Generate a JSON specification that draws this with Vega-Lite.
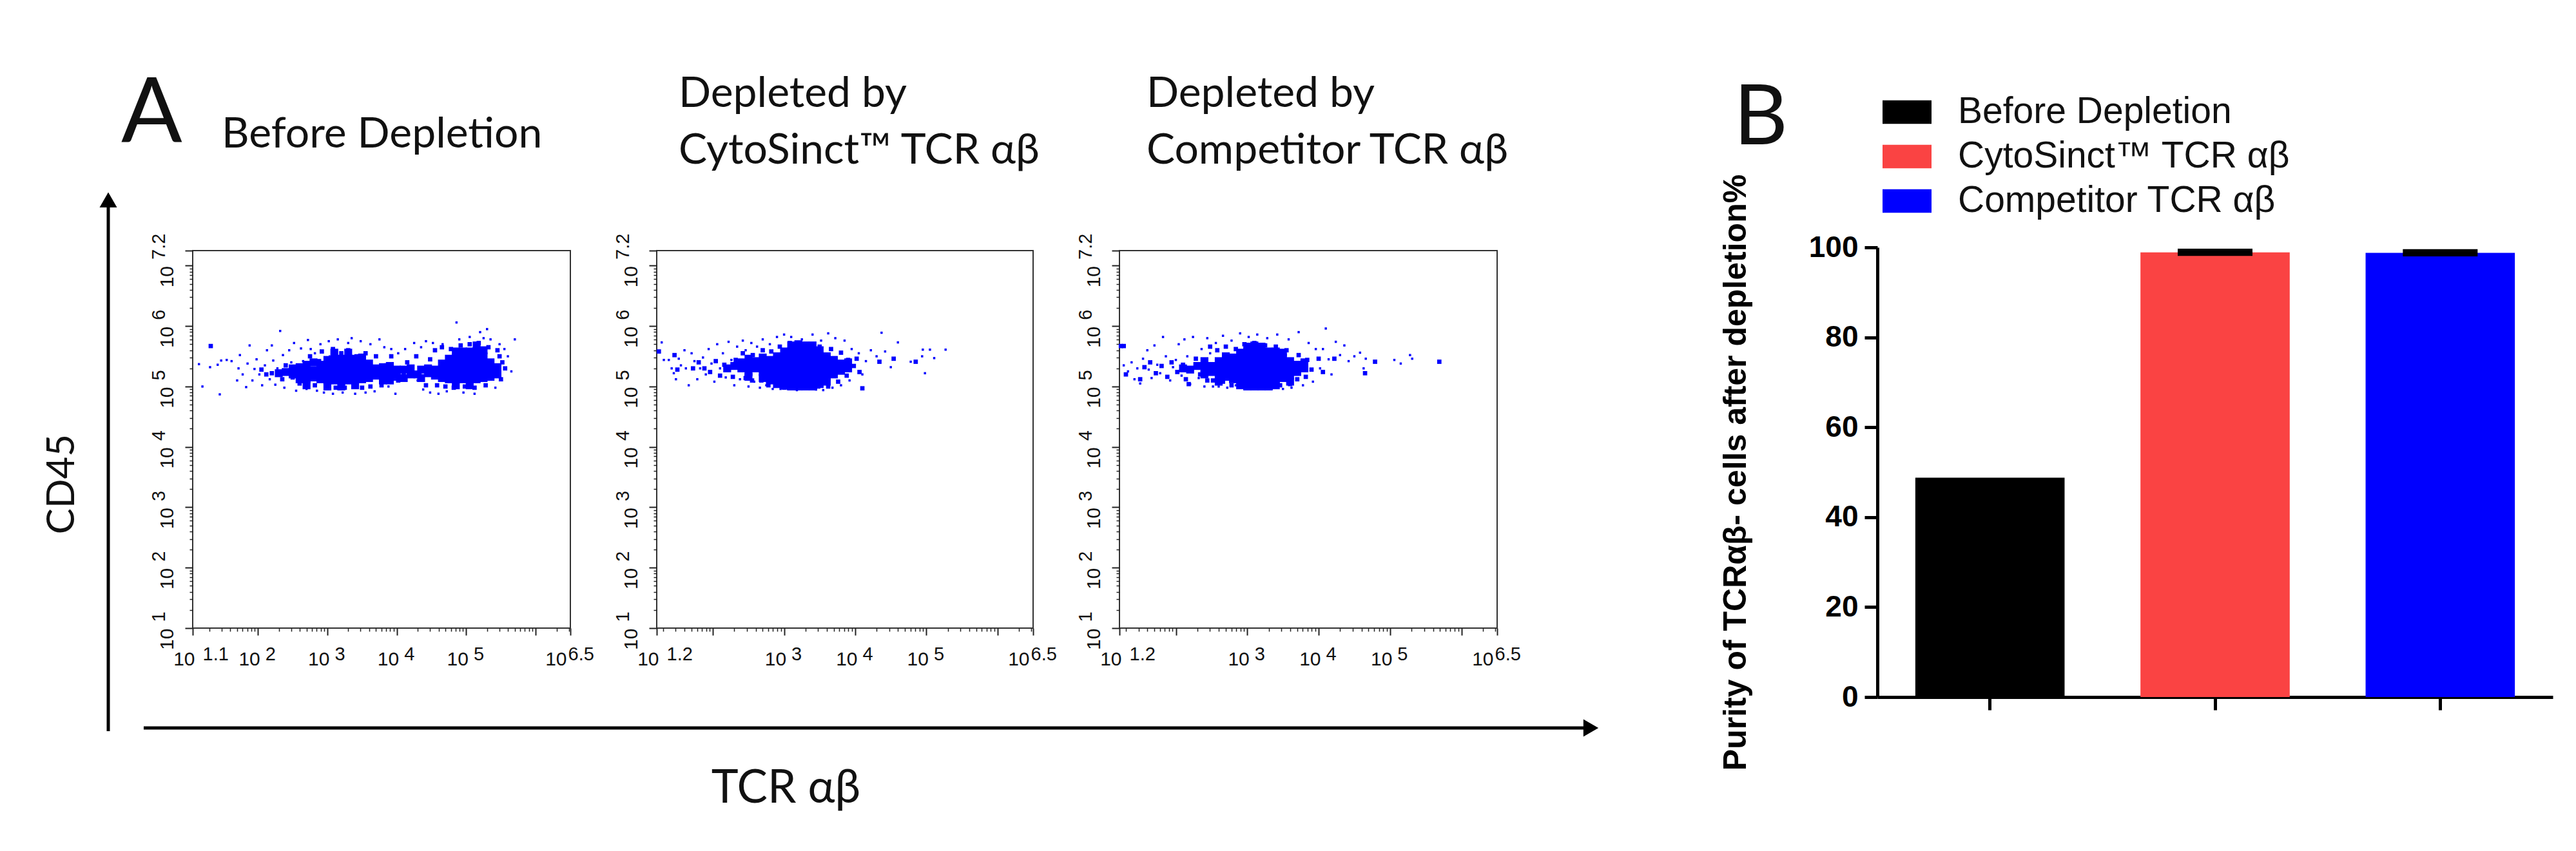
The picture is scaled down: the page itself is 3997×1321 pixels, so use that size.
{"$schema":"https://vega.github.io/schema/vega-lite/v6.json","background":"white","padding":{"left":65,"top":107,"right":30,"bottom":40},
"config":{"view":{"stroke":null},"axis":{"grid":false,"domain":false,"title":null,"labelOverlap":false,"labelFlush":false,"labelBound":false,"labelColor":"#111","tickColor":"#222","labelFont":"Liberation Sans"}},
"datasets":{
"p1s":[{"x":1.15,"y":5.37},{"x":1.2,"y":5.0},{"x":1.31,"y":5.67},{"x":1.31,"y":5.32},{"x":1.45,"y":4.87},{"x":1.42,"y":5.36},{"x":1.47,"y":5.43},{"x":1.55,"y":5.44},{"x":1.62,"y":5.42},{"x":1.72,"y":5.3},{"x":1.7,"y":5.1},{"x":1.74,"y":5.52},{"x":1.78,"y":5.2},{"x":1.83,"y":4.99},{"x":1.85,"y":5.38},{"x":1.88,"y":5.68},{"x":1.92,"y":5.1},{"x":1.95,"y":5.29},{"x":1.98,"y":5.45},{"x":2.02,"y":5.2},{"x":2.06,"y":5.02},{"x":2.1,"y":5.35},{"x":2.13,"y":5.6},{"x":2.17,"y":5.12},{"x":2.2,"y":5.68},{"x":2.22,"y":5.43},{"x":2.25,"y":5.03},{"x":2.28,"y":5.3},{"x":2.32,"y":5.92},{"x":2.36,"y":5.52},{"x":2.38,"y":4.98},{"x":2.42,"y":5.2},{"x":2.45,"y":5.6},{"x":2.48,"y":5.4},{"x":2.52,"y":5.72},{"x":2.55,"y":4.93},{"x":2.58,"y":5.1},{"x":2.62,"y":5.63},{"x":2.65,"y":5.42},{"x":2.7,"y":4.96},{"x":2.72,"y":5.77},{"x":2.76,"y":5.62},{"x":2.82,"y":5.55},{"x":2.85,"y":4.93},{"x":2.9,"y":5.7},{"x":2.95,"y":4.9},{"x":3.02,"y":5.75},{"x":3.08,"y":4.88},{"x":3.15,"y":5.78},{"x":3.22,"y":4.9},{"x":3.3,"y":5.72},{"x":3.35,"y":5.8},{"x":3.4,"y":4.88},{"x":3.48,"y":5.75},{"x":3.55,"y":4.9},{"x":3.62,"y":5.7},{"x":3.68,"y":4.92},{"x":3.75,"y":5.78},{"x":3.82,"y":5.65},{"x":3.88,"y":5.0},{"x":3.92,"y":5.62},{"x":3.98,"y":4.88},{"x":4.02,"y":5.55},{"x":4.06,"y":5.1},{"x":4.12,"y":5.62},{"x":4.18,"y":5.3},{"x":4.25,"y":5.72},{"x":4.3,"y":5.1},{"x":4.35,"y":5.65},{"x":4.38,"y":4.95},{"x":4.42,"y":5.75},{"x":4.48,"y":4.9},{"x":4.52,"y":5.72},{"x":4.6,"y":4.88},{"x":4.66,"y":5.7},{"x":4.72,"y":4.92},{"x":4.86,"y":6.06},{"x":4.9,"y":5.78},{"x":4.96,"y":4.9},{"x":5.05,"y":5.82},{"x":5.12,"y":4.88},{"x":5.2,"y":5.9},{"x":5.25,"y":5.8},{"x":5.3,"y":5.95},{"x":5.35,"y":5.78},{"x":5.42,"y":4.98},{"x":5.48,"y":5.7},{"x":5.55,"y":5.62},{"x":5.6,"y":5.5},{"x":5.7,"y":5.78},{"x":5.65,"y":5.25}],
"p1m":[{"x":1.32,"y":5.67},{"x":2.05,"y":5.28},{"x":2.12,"y":5.2},{"x":2.2,"y":5.22},{"x":2.3,"y":5.2},{"x":2.35,"y":5.12},{"x":2.4,"y":5.35},{"x":2.45,"y":5.25},{"x":2.5,"y":5.15},{"x":2.55,"y":5.3},{"x":2.6,"y":5.05},{"x":2.62,"y":5.22},{"x":2.68,"y":5.38},{"x":2.72,"y":5.12},{"x":2.75,"y":5.5},{"x":2.8,"y":5.25},{"x":2.82,"y":5.02},{"x":2.88,"y":5.42},{"x":2.92,"y":5.58},{"x":2.98,"y":5.0},{"x":3.05,"y":5.48},{"x":3.08,"y":5.62},{"x":3.12,"y":4.98},{"x":3.2,"y":5.55},{"x":3.25,"y":4.98},{"x":3.3,"y":5.6},{"x":3.38,"y":5.02},{"x":3.42,"y":5.5},{"x":3.5,"y":4.98},{"x":3.55,"y":5.55},{"x":3.62,"y":5.0},{"x":3.7,"y":5.5},{"x":3.78,"y":5.02},{"x":3.85,"y":5.35},{"x":3.88,"y":5.2},{"x":3.92,"y":5.5},{"x":4.0,"y":5.28},{"x":4.02,"y":5.1},{"x":4.1,"y":5.2},{"x":4.15,"y":5.4},{"x":4.22,"y":5.22},{"x":4.28,"y":5.5},{"x":4.35,"y":5.12},{"x":4.38,"y":5.3},{"x":4.42,"y":5.02},{"x":4.48,"y":5.45},{"x":4.52,"y":5.28},{"x":4.55,"y":5.6},{"x":4.58,"y":5.02},{"x":4.65,"y":5.65},{"x":4.7,"y":5.0},{"x":4.78,"y":5.62},{"x":4.82,"y":4.98},{"x":4.92,"y":5.68},{"x":4.98,"y":5.0},{"x":5.05,"y":5.7},{"x":5.12,"y":4.98},{"x":5.18,"y":5.72},{"x":5.28,"y":5.02},{"x":5.32,"y":5.65},{"x":5.48,"y":5.5},{"x":5.5,"y":5.12},{"x":5.56,"y":5.3},{"x":5.52,"y":5.4},{"x":5.45,"y":5.6}],
"p1c":[{"x":2.3,"y":5.22},{"x":2.4,"y":5.24},{"x":2.5,"y":5.2},{"x":2.5,"y":5.3},{"x":2.6,"y":5.12},{"x":2.6,"y":5.32},{"x":4.0,"y":5.28},{"x":4.1,"y":5.14},{"x":4.2,"y":5.2},{"x":4.2,"y":5.3},{"x":4.35,"y":5.14},{"x":4.35,"y":5.28},{"x":3.8,"y":5.1},{"x":3.9,"y":5.1},{"x":3.9,"y":5.34},{"x":2.7,"y":5.02},{"x":2.8,"y":5.4},{"x":2.6,"y":5.2},{"x":2.7,"y":5.12},{"x":2.7,"y":5.24},{"x":2.7,"y":5.36},{"x":3.8,"y":5.2},{"x":3.8,"y":5.32},{"x":4.0,"y":5.16},{"x":4.1,"y":5.28},{"x":4.3,"y":5.2},{"x":4.45,"y":5.22},{"x":4.45,"y":5.3},{"x":3.1,"y":5.56},{"x":3.3,"y":5.56},{"x":3.5,"y":5.48},{"x":3.0,"y":5.44},{"x":3.0,"y":5.0},{"x":3.2,"y":5.0},{"x":3.4,"y":5.02},{"x":4.85,"y":5.58},{"x":4.95,"y":5.58},{"x":5.15,"y":5.68},{"x":5.05,"y":5.02},{"x":4.85,"y":5.02},{"x":5.25,"y":5.6},{"x":2.8,"y":5.15},{"x":2.8,"y":5.27},{"x":2.9,"y":5.12},{"x":2.9,"y":5.24},{"x":2.9,"y":5.36},{"x":3.0,"y":5.1},{"x":3.0,"y":5.22},{"x":3.0,"y":5.34},{"x":3.1,"y":5.1},{"x":3.1,"y":5.22},{"x":3.1,"y":5.34},{"x":3.1,"y":5.44},{"x":3.2,"y":5.1},{"x":3.2,"y":5.22},{"x":3.2,"y":5.34},{"x":3.2,"y":5.46},{"x":3.3,"y":5.1},{"x":3.3,"y":5.22},{"x":3.3,"y":5.34},{"x":3.3,"y":5.46},{"x":3.4,"y":5.12},{"x":3.4,"y":5.24},{"x":3.4,"y":5.36},{"x":3.4,"y":5.46},{"x":3.5,"y":5.12},{"x":3.5,"y":5.24},{"x":3.5,"y":5.36},{"x":3.6,"y":5.14},{"x":3.6,"y":5.26},{"x":3.6,"y":5.38},{"x":3.7,"y":5.18},{"x":3.7,"y":5.3},{"x":3.9,"y":5.22},{"x":4.55,"y":5.18},{"x":4.55,"y":5.28},{"x":4.65,"y":5.14},{"x":4.65,"y":5.26},{"x":4.65,"y":5.38},{"x":4.75,"y":5.12},{"x":4.75,"y":5.24},{"x":4.75,"y":5.36},{"x":4.75,"y":5.46},{"x":4.85,"y":5.12},{"x":4.85,"y":5.24},{"x":4.85,"y":5.36},{"x":4.85,"y":5.48},{"x":4.95,"y":5.12},{"x":4.95,"y":5.24},{"x":4.95,"y":5.36},{"x":4.95,"y":5.48},{"x":5.05,"y":5.12},{"x":5.05,"y":5.24},{"x":5.05,"y":5.36},{"x":5.05,"y":5.48},{"x":5.05,"y":5.58},{"x":5.15,"y":5.12},{"x":5.15,"y":5.24},{"x":5.15,"y":5.36},{"x":5.15,"y":5.48},{"x":5.15,"y":5.58},{"x":5.25,"y":5.14},{"x":5.25,"y":5.26},{"x":5.25,"y":5.38},{"x":5.25,"y":5.5},{"x":5.35,"y":5.16},{"x":5.35,"y":5.28},{"x":5.35,"y":5.4},{"x":5.45,"y":5.2},{"x":5.45,"y":5.32}],
"p2s":[{"x":1.28,"y":5.73},{"x":1.31,"y":5.44},{"x":1.38,"y":5.44},{"x":1.42,"y":5.3},{"x":1.45,"y":5.22},{"x":1.48,"y":5.12},{"x":1.52,"y":5.46},{"x":1.55,"y":5.35},{"x":1.6,"y":5.6},{"x":1.62,"y":5.3},{"x":1.66,"y":5.02},{"x":1.7,"y":5.55},{"x":1.74,"y":5.42},{"x":1.78,"y":5.12},{"x":1.82,"y":5.3},{"x":1.86,"y":5.48},{"x":1.9,"y":5.2},{"x":1.94,"y":5.62},{"x":1.98,"y":5.38},{"x":2.02,"y":5.08},{"x":2.06,"y":5.7},{"x":2.1,"y":5.3},{"x":2.14,"y":5.55},{"x":2.18,"y":5.15},{"x":2.22,"y":5.74},{"x":2.26,"y":5.44},{"x":2.3,"y":5.02},{"x":2.34,"y":5.66},{"x":2.38,"y":5.12},{"x":2.42,"y":5.76},{"x":2.46,"y":5.6},{"x":2.5,"y":5.0},{"x":2.54,"y":5.72},{"x":2.58,"y":5.08},{"x":2.62,"y":5.66},{"x":2.66,"y":4.98},{"x":2.7,"y":5.78},{"x":2.75,"y":5.02},{"x":2.8,"y":5.7},{"x":2.84,"y":4.96},{"x":2.9,"y":5.82},{"x":2.95,"y":4.96},{"x":3.0,"y":5.86},{"x":3.05,"y":4.96},{"x":3.1,"y":5.82},{"x":3.18,"y":4.94},{"x":3.25,"y":5.78},{"x":3.3,"y":4.96},{"x":3.4,"y":5.86},{"x":3.45,"y":4.95},{"x":3.52,"y":5.76},{"x":3.55,"y":4.94},{"x":3.62,"y":5.88},{"x":3.68,"y":4.98},{"x":3.72,"y":5.8},{"x":3.8,"y":5.02},{"x":3.85,"y":5.76},{"x":3.92,"y":5.1},{"x":3.95,"y":5.62},{"x":4.05,"y":5.55},{"x":4.1,"y":5.2},{"x":4.15,"y":5.42},{"x":4.22,"y":5.6},{"x":4.3,"y":5.5},{"x":4.37,"y":5.89},{"x":4.42,"y":5.58},{"x":4.5,"y":5.32},{"x":4.6,"y":5.73},{"x":4.78,"y":5.41},{"x":4.94,"y":5.5},{"x":4.95,"y":5.61},{"x":4.98,"y":5.22},{"x":5.05,"y":5.61},{"x":5.11,"y":5.47},{"x":5.27,"y":5.61}],
"p2m":[{"x":1.24,"y":5.58},{"x":1.46,"y":5.52},{"x":1.5,"y":5.28},{"x":1.72,"y":5.3},{"x":1.8,"y":5.4},{"x":1.88,"y":5.3},{"x":1.96,"y":5.24},{"x":2.04,"y":5.42},{"x":2.1,"y":5.18},{"x":2.16,"y":5.36},{"x":2.22,"y":5.28},{"x":2.28,"y":5.16},{"x":2.32,"y":5.44},{"x":2.38,"y":5.3},{"x":2.42,"y":5.55},{"x":2.46,"y":5.14},{"x":2.5,"y":5.36},{"x":2.55,"y":5.1},{"x":2.56,"y":5.52},{"x":2.68,"y":5.1},{"x":2.7,"y":5.6},{"x":2.78,"y":5.02},{"x":2.82,"y":5.58},{"x":2.9,"y":5.02},{"x":2.94,"y":5.66},{"x":3.0,"y":4.98},{"x":3.08,"y":5.72},{"x":3.15,"y":4.98},{"x":3.22,"y":5.7},{"x":3.32,"y":4.98},{"x":3.36,"y":5.7},{"x":3.48,"y":5.0},{"x":3.5,"y":5.66},{"x":3.62,"y":5.0},{"x":3.66,"y":5.62},{"x":3.76,"y":5.08},{"x":3.8,"y":5.56},{"x":3.88,"y":5.18},{"x":3.9,"y":5.44},{"x":3.98,"y":5.34},{"x":4.02,"y":5.46},{"x":4.06,"y":5.24},{"x":4.1,"y":4.97},{"x":4.34,"y":5.41},{"x":4.54,"y":5.46},{"x":4.85,"y":5.41}],
"p2c":[{"x":2.4,"y":5.3},{"x":2.4,"y":5.4},{"x":2.3,"y":5.34},{"x":2.2,"y":5.3},{"x":2.5,"y":5.46},{"x":2.5,"y":5.16},{"x":3.1,"y":5.68},{"x":3.2,"y":5.7},{"x":3.3,"y":5.68},{"x":3.4,"y":5.68},{"x":3.0,"y":5.02},{"x":3.1,"y":5.0},{"x":3.2,"y":5.0},{"x":3.3,"y":5.0},{"x":3.4,"y":5.0},{"x":3.5,"y":5.04},{"x":3.5,"y":5.6},{"x":2.5,"y":5.36},{"x":2.5,"y":5.24},{"x":3.9,"y":5.3},{"x":3.9,"y":5.4},{"x":2.8,"y":5.1},{"x":2.7,"y":5.14},{"x":3.6,"y":5.08},{"x":2.9,"y":5.04},{"x":2.6,"y":5.3},{"x":2.6,"y":5.42},{"x":2.7,"y":5.24},{"x":2.7,"y":5.36},{"x":2.7,"y":5.48},{"x":2.8,"y":5.2},{"x":2.8,"y":5.32},{"x":2.8,"y":5.44},{"x":2.9,"y":5.14},{"x":2.9,"y":5.26},{"x":2.9,"y":5.38},{"x":2.9,"y":5.5},{"x":3.0,"y":5.12},{"x":3.0,"y":5.24},{"x":3.0,"y":5.36},{"x":3.0,"y":5.48},{"x":3.0,"y":5.58},{"x":3.1,"y":5.1},{"x":3.1,"y":5.22},{"x":3.1,"y":5.34},{"x":3.1,"y":5.46},{"x":3.1,"y":5.58},{"x":3.2,"y":5.1},{"x":3.2,"y":5.22},{"x":3.2,"y":5.34},{"x":3.2,"y":5.46},{"x":3.2,"y":5.58},{"x":3.3,"y":5.1},{"x":3.3,"y":5.22},{"x":3.3,"y":5.34},{"x":3.3,"y":5.46},{"x":3.3,"y":5.58},{"x":3.4,"y":5.1},{"x":3.4,"y":5.22},{"x":3.4,"y":5.34},{"x":3.4,"y":5.46},{"x":3.4,"y":5.58},{"x":3.5,"y":5.14},{"x":3.5,"y":5.26},{"x":3.5,"y":5.38},{"x":3.5,"y":5.5},{"x":3.6,"y":5.16},{"x":3.6,"y":5.28},{"x":3.6,"y":5.4},{"x":3.6,"y":5.5},{"x":3.7,"y":5.2},{"x":3.7,"y":5.32},{"x":3.7,"y":5.44},{"x":3.8,"y":5.26},{"x":3.8,"y":5.38}],
"p3s":[{"x":1.27,"y":5.35},{"x":1.33,"y":5.25},{"x":1.38,"y":5.4},{"x":1.42,"y":5.12},{"x":1.46,"y":5.3},{"x":1.5,"y":5.05},{"x":1.54,"y":5.46},{"x":1.6,"y":5.6},{"x":1.62,"y":5.28},{"x":1.66,"y":5.14},{"x":1.7,"y":5.68},{"x":1.74,"y":5.36},{"x":1.78,"y":5.22},{"x":1.82,"y":5.82},{"x":1.86,"y":5.5},{"x":1.92,"y":5.1},{"x":1.96,"y":5.32},{"x":2.0,"y":5.44},{"x":2.04,"y":5.7},{"x":2.08,"y":5.18},{"x":2.12,"y":5.78},{"x":2.16,"y":5.5},{"x":2.2,"y":5.04},{"x":2.24,"y":5.82},{"x":2.28,"y":5.36},{"x":2.32,"y":5.14},{"x":2.36,"y":5.62},{"x":2.4,"y":5.0},{"x":2.44,"y":5.8},{"x":2.48,"y":5.55},{"x":2.52,"y":5.0},{"x":2.56,"y":5.72},{"x":2.6,"y":5.0},{"x":2.66,"y":5.84},{"x":2.72,"y":4.98},{"x":2.78,"y":5.76},{"x":2.84,"y":5.02},{"x":2.9,"y":5.88},{"x":2.96,"y":4.96},{"x":3.02,"y":5.82},{"x":3.08,"y":4.96},{"x":3.14,"y":5.86},{"x":3.2,"y":4.96},{"x":3.28,"y":5.8},{"x":3.34,"y":4.96},{"x":3.42,"y":5.86},{"x":3.5,"y":4.96},{"x":3.58,"y":5.78},{"x":3.62,"y":4.98},{"x":3.72,"y":5.9},{"x":3.78,"y":5.02},{"x":3.86,"y":5.72},{"x":3.92,"y":5.08},{"x":3.96,"y":5.62},{"x":4.02,"y":5.3},{"x":4.06,"y":5.62},{"x":4.1,"y":5.96},{"x":4.14,"y":5.45},{"x":4.18,"y":5.2},{"x":4.24,"y":5.74},{"x":4.3,"y":5.52},{"x":4.36,"y":5.68},{"x":4.42,"y":5.42},{"x":4.5,"y":5.5},{"x":4.58,"y":5.56},{"x":4.66,"y":5.46},{"x":4.63,"y":5.3},{"x":5.06,"y":5.44},{"x":5.15,"y":5.38},{"x":5.28,"y":5.52},{"x":5.31,"y":5.46}],
"p3m":[{"x":1.23,"y":5.67},{"x":1.27,"y":5.67},{"x":1.3,"y":5.2},{"x":1.5,"y":5.12},{"x":1.56,"y":5.32},{"x":1.64,"y":5.4},{"x":1.72,"y":5.22},{"x":1.8,"y":5.34},{"x":1.88,"y":5.16},{"x":1.94,"y":5.4},{"x":2.02,"y":5.24},{"x":2.1,"y":5.36},{"x":2.14,"y":5.12},{"x":2.18,"y":5.04},{"x":2.22,"y":5.28},{"x":2.28,"y":5.46},{"x":2.34,"y":5.2},{"x":2.4,"y":5.38},{"x":2.44,"y":5.1},{"x":2.48,"y":5.66},{"x":2.52,"y":5.1},{"x":2.58,"y":5.6},{"x":2.66,"y":5.08},{"x":2.7,"y":5.66},{"x":2.78,"y":5.02},{"x":2.84,"y":5.62},{"x":2.92,"y":5.02},{"x":2.96,"y":5.7},{"x":3.04,"y":5.0},{"x":3.1,"y":5.72},{"x":3.18,"y":5.0},{"x":3.25,"y":5.68},{"x":3.3,"y":5.0},{"x":3.4,"y":5.66},{"x":3.46,"y":5.02},{"x":3.55,"y":5.6},{"x":3.6,"y":5.04},{"x":3.7,"y":5.12},{"x":3.72,"y":5.52},{"x":3.82,"y":5.16},{"x":3.84,"y":5.44},{"x":3.9,"y":5.28},{"x":4.0,"y":5.46},{"x":4.06,"y":5.24},{"x":4.22,"y":5.46},{"x":4.65,"y":5.22},{"x":4.79,"y":5.41},{"x":5.69,"y":5.41}],
"p3c":[{"x":2.3,"y":5.34},{"x":2.2,"y":5.28},{"x":2.4,"y":5.2},{"x":2.4,"y":5.42},{"x":2.1,"y":5.3},{"x":3.0,"y":5.66},{"x":3.1,"y":5.68},{"x":3.2,"y":5.66},{"x":3.3,"y":5.58},{"x":3.4,"y":5.58},{"x":3.5,"y":5.56},{"x":2.9,"y":5.02},{"x":3.0,"y":5.0},{"x":3.1,"y":5.0},{"x":3.2,"y":5.0},{"x":3.3,"y":5.0},{"x":3.4,"y":5.02},{"x":3.8,"y":5.3},{"x":3.8,"y":5.4},{"x":2.4,"y":5.3},{"x":2.6,"y":5.08},{"x":3.6,"y":5.08},{"x":2.5,"y":5.24},{"x":2.5,"y":5.34},{"x":2.6,"y":5.2},{"x":2.6,"y":5.32},{"x":2.6,"y":5.42},{"x":2.7,"y":5.16},{"x":2.7,"y":5.28},{"x":2.7,"y":5.4},{"x":2.7,"y":5.5},{"x":2.8,"y":5.12},{"x":2.8,"y":5.24},{"x":2.8,"y":5.36},{"x":2.8,"y":5.48},{"x":2.9,"y":5.1},{"x":2.9,"y":5.22},{"x":2.9,"y":5.34},{"x":2.9,"y":5.46},{"x":2.9,"y":5.56},{"x":3.0,"y":5.1},{"x":3.0,"y":5.22},{"x":3.0,"y":5.34},{"x":3.0,"y":5.46},{"x":3.0,"y":5.58},{"x":3.1,"y":5.1},{"x":3.1,"y":5.22},{"x":3.1,"y":5.34},{"x":3.1,"y":5.46},{"x":3.1,"y":5.58},{"x":3.2,"y":5.1},{"x":3.2,"y":5.22},{"x":3.2,"y":5.34},{"x":3.2,"y":5.46},{"x":3.2,"y":5.58},{"x":3.3,"y":5.1},{"x":3.3,"y":5.22},{"x":3.3,"y":5.34},{"x":3.3,"y":5.46},{"x":3.4,"y":5.1},{"x":3.4,"y":5.22},{"x":3.4,"y":5.34},{"x":3.4,"y":5.46},{"x":3.5,"y":5.14},{"x":3.5,"y":5.26},{"x":3.5,"y":5.38},{"x":3.5,"y":5.48},{"x":3.6,"y":5.18},{"x":3.6,"y":5.3},{"x":3.6,"y":5.42},{"x":3.7,"y":5.24},{"x":3.7,"y":5.36}],
"bars":[{"group":"Before Depletion","purity":48.8},{"group":"CytoSinct™ TCR αβ","purity":98.9,"low":98.1,"high":99.7},{"group":"Competitor TCR αβ","purity":98.8,"low":98.0,"high":99.6}]
},
"spacing":134,"bounds":"flush",
"hconcat":[
{"width":586,"height":586,"view":{"stroke":"#333","strokeWidth":2},
"title":{"text":"Before Depletion","frame":"group","anchor":"start","dx":45,"offset":-187,"baseline":"alphabetic","font":"Lato","fontSize":66,"fontWeight":"normal","color":"#111"},
"resolve":{"axis":{"x":"independent","y":"independent"}},
"layer":[
{"data":{"name":"p1s"},"mark":{"type":"square","color":"#0000ff","size":12,"opacity":1},
"encoding":{"x":{"field":"x","type":"quantitative","scale":{"domain":[1.06,6.5],"zero":false,"nice":false},
"axis":{"orient":"bottom","values":[1.06,2,3,4,5,6,6.5],"labelExpr":"datum.value==6?'':'10'","tickSize":11,"tickWidth":2,"labelFontSize":30,"labelAlign":"right","labelBaseline":"alphabetic","labelPadding":46,"labelOffset":{"condition":{"test":"datum.value==6.5","value":-6},"value":3}}},
"y":{"field":"y","type":"quantitative","scale":{"domain":[1,7.25],"zero":false,"nice":false},
"axis":{"orient":"left","values":[1,2,3,4,5,6,7,7.25],"labelExpr":"datum.value==7.25?'':'10'","tickSize":12,"tickWidth":2,"labelFontSize":30,"labelAngle":270,"labelAlign":"right","labelBaseline":"alphabetic","labelPadding":19,"title":"CD45","titleFont":"Lato","titleFontSize":60,"titleFontWeight":"normal","titleColor":"#111","titleAngle":270,"titleX":-185,"titleY":362,"titleAlign":"center","titleBaseline":"alphabetic"}}}},
{"data":{"name":"p1m"},"mark":{"type":"square","color":"#0000ff","size":45,"opacity":1},
"encoding":{"x":{"field":"x","type":"quantitative","axis":{"orient":"bottom","values":[1.06,2,3,4,5,6.5],"ticks":false,"labelExpr":"datum.value==1.06?'1.1':datum.value==6.5?'6.5':format(datum.value,'d')","labelFontSize":29,"labelAlign":"left","labelBaseline":"alphabetic","labelPadding":49,"labelOffset":{"condition":[{"test":"datum.value==1.06","value":15},{"test":"datum.value==6.5","value":-4}],"value":11}}},
"y":{"field":"y","type":"quantitative","axis":{"orient":"left","values":[1,2,3,4,5,6,7],"ticks":false,"labelExpr":"datum.value==7?'7.2':format(datum.value,'d')","labelFontSize":29,"labelAngle":270,"labelAlign":"left","labelBaseline":"alphabetic","labelPadding":44,"labelOffset":-10}}}},
{"data":{"name":"p1c"},"mark":{"type":"square","color":"#0000ff","size":150,"opacity":1},
"encoding":{"x":{"field":"x","type":"quantitative","axis":{"orient":"bottom","values":[1.301,1.477,1.602,1.699,1.778,1.845,1.903,1.954,2.301,2.477,2.602,2.699,2.778,2.845,2.903,2.954,3.301,3.477,3.602,3.699,3.778,3.845,3.903,3.954,4.301,4.477,4.602,4.699,4.778,4.845,4.903,4.954,5.301,5.477,5.602,5.699,5.778,5.845,5.903,5.954,6.301,6.477],"labels":false,"tickSize":5,"tickWidth":1.5}},
"y":{"field":"y","type":"quantitative","axis":{"orient":"left","values":[1.301,1.477,1.602,1.699,1.778,1.845,1.903,1.954,2.301,2.477,2.602,2.699,2.778,2.845,2.903,2.954,3.301,3.477,3.602,3.699,3.778,3.845,3.903,3.954,4.301,4.477,4.602,4.699,4.778,4.845,4.903,4.954,5.301,5.477,5.602,5.699,5.778,5.845,5.903,5.954,6.301,6.477,6.602,6.699,6.778,6.845,6.903,6.954],"labels":false,"tickSize":5,"tickWidth":1.5}}}},
{"data":{"values":[{"x":-0.156,"x2":-0.156,"y":8.09,"y2":-0.706},{"x":0.354,"x2":21.2,"y":-0.653,"y2":-0.653}]},"mark":{"type":"rule","color":"black","strokeWidth":5},
"encoding":{"x":{"field":"x","type":"quantitative","axis":null},"x2":{"field":"x2"},"y":{"field":"y","type":"quantitative","axis":null},"y2":{"field":"y2"}}},
{"data":{"values":[{"x":-0.156,"y":8.09,"head":"triangle-up"},{"x":21.2,"y":-0.653,"head":"triangle-right"}]},"mark":{"type":"point","filled":true,"color":"black","size":729,"opacity":1},
"encoding":{"x":{"field":"x","type":"quantitative","axis":null},"y":{"field":"y","type":"quantitative","axis":null},"shape":{"field":"head","type":"nominal","scale":null,"legend":null}}},
{"data":{"values":[{"x":0.03,"y":9.05,"label":"A"}]},"mark":{"type":"text","font":"Lato","fontSize":140,"align":"left","baseline":"alphabetic","color":"#111"},
"encoding":{"x":{"field":"x","type":"quantitative","axis":null},"y":{"field":"y","type":"quantitative","axis":null},"text":{"field":"label"}}}
]},
{"width":584,"height":586,"view":{"stroke":"#333","strokeWidth":2},
"title":{"text":["Depleted by","CytoSinct™ TCR αβ"],"frame":"group","anchor":"start","dx":34,"offset":42,"baseline":"alphabetic","lineHeight":88,"font":"Lato","fontSize":66,"fontWeight":"normal","color":"#111"},
"resolve":{"axis":{"x":"independent","y":"independent"}},
"layer":[
{"data":{"name":"p2s"},"mark":{"type":"square","color":"#0000ff","size":12,"opacity":1},
"encoding":{"x":{"field":"x","type":"quantitative","scale":{"domain":[1.21,6.5],"zero":false,"nice":false},
"axis":{"orient":"bottom","values":[1.21,2,3,4,5,6,6.5],"labelExpr":"datum.value==6||datum.value==2?'':'10'","tickSize":11,"tickWidth":2,"labelFontSize":30,"labelAlign":"right","labelBaseline":"alphabetic","labelPadding":46,"labelOffset":{"condition":{"test":"datum.value==6.5","value":-6},"value":3},"title":"TCR αβ","titleFont":"Lato","titleFontSize":71,"titleFontWeight":"normal","titleColor":"#111","titleX":200,"titleY":270,"titleAlign":"center","titleBaseline":"alphabetic"}},
"y":{"field":"y","type":"quantitative","scale":{"domain":[1,7.25],"zero":false,"nice":false},
"axis":{"orient":"left","values":[1,2,3,4,5,6,7,7.25],"labelExpr":"datum.value==7.25?'':'10'","tickSize":12,"tickWidth":2,"labelFontSize":30,"labelAngle":270,"labelAlign":"right","labelBaseline":"alphabetic","labelPadding":19}}}},
{"data":{"name":"p2m"},"mark":{"type":"square","color":"#0000ff","size":45,"opacity":1},
"encoding":{"x":{"field":"x","type":"quantitative","axis":{"orient":"bottom","values":[1.21,3,4,5,6.5],"ticks":false,"labelExpr":"datum.value==1.21?'1.2':datum.value==6.5?'6.5':format(datum.value,'d')","labelFontSize":29,"labelAlign":"left","labelBaseline":"alphabetic","labelPadding":49,"labelOffset":{"condition":[{"test":"datum.value==1.21","value":15},{"test":"datum.value==6.5","value":-4}],"value":11}}},
"y":{"field":"y","type":"quantitative","axis":{"orient":"left","values":[1,2,3,4,5,6,7],"ticks":false,"labelExpr":"datum.value==7?'7.2':format(datum.value,'d')","labelFontSize":29,"labelAngle":270,"labelAlign":"left","labelBaseline":"alphabetic","labelPadding":44,"labelOffset":-10}}}},
{"data":{"name":"p2c"},"mark":{"type":"square","color":"#0000ff","size":150,"opacity":1},
"encoding":{"x":{"field":"x","type":"quantitative","axis":{"orient":"bottom","values":[1.301,1.477,1.602,1.699,1.778,1.845,1.903,1.954,2.301,2.477,2.602,2.699,2.778,2.845,2.903,2.954,3.301,3.477,3.602,3.699,3.778,3.845,3.903,3.954,4.301,4.477,4.602,4.699,4.778,4.845,4.903,4.954,5.301,5.477,5.602,5.699,5.778,5.845,5.903,5.954,6.301,6.477],"labels":false,"tickSize":5,"tickWidth":1.5}},
"y":{"field":"y","type":"quantitative","axis":{"orient":"left","values":[1.301,1.477,1.602,1.699,1.778,1.845,1.903,1.954,2.301,2.477,2.602,2.699,2.778,2.845,2.903,2.954,3.301,3.477,3.602,3.699,3.778,3.845,3.903,3.954,4.301,4.477,4.602,4.699,4.778,4.845,4.903,4.954,5.301,5.477,5.602,5.699,5.778,5.845,5.903,5.954,6.301,6.477,6.602,6.699,6.778,6.845,6.903,6.954],"labels":false,"tickSize":5,"tickWidth":1.5}}}}
]},
{"width":586,"height":586,"view":{"stroke":"#333","strokeWidth":2},
"title":{"text":["Depleted by","Competitor TCR αβ"],"frame":"group","anchor":"start","dx":42,"offset":42,"baseline":"alphabetic","lineHeight":88,"font":"Lato","fontSize":66,"fontWeight":"normal","color":"#111"},
"resolve":{"axis":{"x":"independent","y":"independent"}},
"layer":[
{"data":{"name":"p3s"},"mark":{"type":"square","color":"#0000ff","size":12,"opacity":1},
"encoding":{"x":{"field":"x","type":"quantitative","scale":{"domain":[1.21,6.5],"zero":false,"nice":false},
"axis":{"orient":"bottom","values":[1.21,2,3,4,5,6,6.5],"labelExpr":"datum.value==6||datum.value==2?'':'10'","tickSize":11,"tickWidth":2,"labelFontSize":30,"labelAlign":"right","labelBaseline":"alphabetic","labelPadding":46,"labelOffset":{"condition":{"test":"datum.value==6.5","value":-6},"value":3}}},
"y":{"field":"y","type":"quantitative","scale":{"domain":[1,7.25],"zero":false,"nice":false},
"axis":{"orient":"left","values":[1,2,3,4,5,6,7,7.25],"labelExpr":"datum.value==7.25?'':'10'","tickSize":12,"tickWidth":2,"labelFontSize":30,"labelAngle":270,"labelAlign":"right","labelBaseline":"alphabetic","labelPadding":19}}}},
{"data":{"name":"p3m"},"mark":{"type":"square","color":"#0000ff","size":45,"opacity":1},
"encoding":{"x":{"field":"x","type":"quantitative","axis":{"orient":"bottom","values":[1.21,3,4,5,6.5],"ticks":false,"labelExpr":"datum.value==1.21?'1.2':datum.value==6.5?'6.5':format(datum.value,'d')","labelFontSize":29,"labelAlign":"left","labelBaseline":"alphabetic","labelPadding":49,"labelOffset":{"condition":[{"test":"datum.value==1.21","value":15},{"test":"datum.value==6.5","value":-4}],"value":11}}},
"y":{"field":"y","type":"quantitative","axis":{"orient":"left","values":[1,2,3,4,5,6,7],"ticks":false,"labelExpr":"datum.value==7?'7.2':format(datum.value,'d')","labelFontSize":29,"labelAngle":270,"labelAlign":"left","labelBaseline":"alphabetic","labelPadding":44,"labelOffset":-10}}}},
{"data":{"name":"p3c"},"mark":{"type":"square","color":"#0000ff","size":150,"opacity":1},
"encoding":{"x":{"field":"x","type":"quantitative","axis":{"orient":"bottom","values":[1.301,1.477,1.602,1.699,1.778,1.845,1.903,1.954,2.301,2.477,2.602,2.699,2.778,2.845,2.903,2.954,3.301,3.477,3.602,3.699,3.778,3.845,3.903,3.954,4.301,4.477,4.602,4.699,4.778,4.845,4.903,4.954,5.301,5.477,5.602,5.699,5.778,5.845,5.903,5.954,6.301,6.477],"labels":false,"tickSize":5,"tickWidth":1.5}},
"y":{"field":"y","type":"quantitative","axis":{"orient":"left","values":[1.301,1.477,1.602,1.699,1.778,1.845,1.903,1.954,2.301,2.477,2.602,2.699,2.778,2.845,2.903,2.954,3.301,3.477,3.602,3.699,3.778,3.845,3.903,3.954,4.301,4.477,4.602,4.699,4.778,4.845,4.903,4.954,5.301,5.477,5.602,5.699,5.778,5.845,5.903,5.954,6.301,6.477,6.602,6.699,6.778,6.845,6.903,6.954],"labels":false,"tickSize":5,"tickWidth":1.5}}}}
]},
{"width":322,"height":10,"data":{"values":[]},"mark":{"type":"point","opacity":0},"encoding":{}},
{"width":1048,"height":693,"data":{"name":"bars"},
"title":{"text":"B","frame":"group","anchor":"start","dx":-223,"offset":-84,"baseline":"alphabetic","font":"Lato","fontSize":130,"fontWeight":"normal","color":"#111"},
"layer":[
{"mark":{"type":"bar"},
"encoding":{"x":{"field":"group","type":"nominal","sort":null,"scale":{"paddingInner":0.337,"paddingOuter":0.1685},"axis":{"labels":false,"title":null,"domain":true,"domainWidth":5,"domainColor":"black","tickColor":"black","tickWidth":5,"tickSize":20}},
"y":{"field":"purity","type":"quantitative","scale":{"domain":[0,100],"range":[693,-5],"nice":false},"axis":{"values":[0,20,40,60,80,100],"format":"d","domain":true,"domainWidth":5,"domainColor":"black","tickColor":"black","tickWidth":5,"tickSize":20,"labelFontSize":46,"labelFontWeight":"bold","labelColor":"black","labelPadding":10,"title":"Purity of TCRαβ- cells after depletion%","titleFont":"Liberation Sans","titleFontSize":50,"titleFontWeight":"bold","titleColor":"black","titleAngle":270,"titleX":-205,"titleY":344,"titleAlign":"center","titleBaseline":"alphabetic"}},
"color":{"field":"group","type":"nominal","sort":null,"scale":{"domain":["Before Depletion","CytoSinct™ TCR αβ","Competitor TCR αβ"],"range":["#000000","#fa4343","#0000ff"]},
"legend":{"title":null,"orient":"none","legendX":2622,"legendY":-253,"symbolType":"M-1,-0.48H1V0.48H-1Z","symbolSize":5776,"symbolStrokeWidth":0,"labelFont":"Liberation Sans","labelFontSize":57,"labelColor":"#111","labelOffset":41,"rowPadding":3,"labelLimit":800,"padding":0}}}},
{"transform":[{"filter":"datum.low != null"}],"mark":{"type":"bar","color":"black","width":116},
"encoding":{"x":{"field":"group","type":"nominal","sort":null},"y":{"field":"low","type":"quantitative"},"y2":{"field":"high"}}}
]}
]}
